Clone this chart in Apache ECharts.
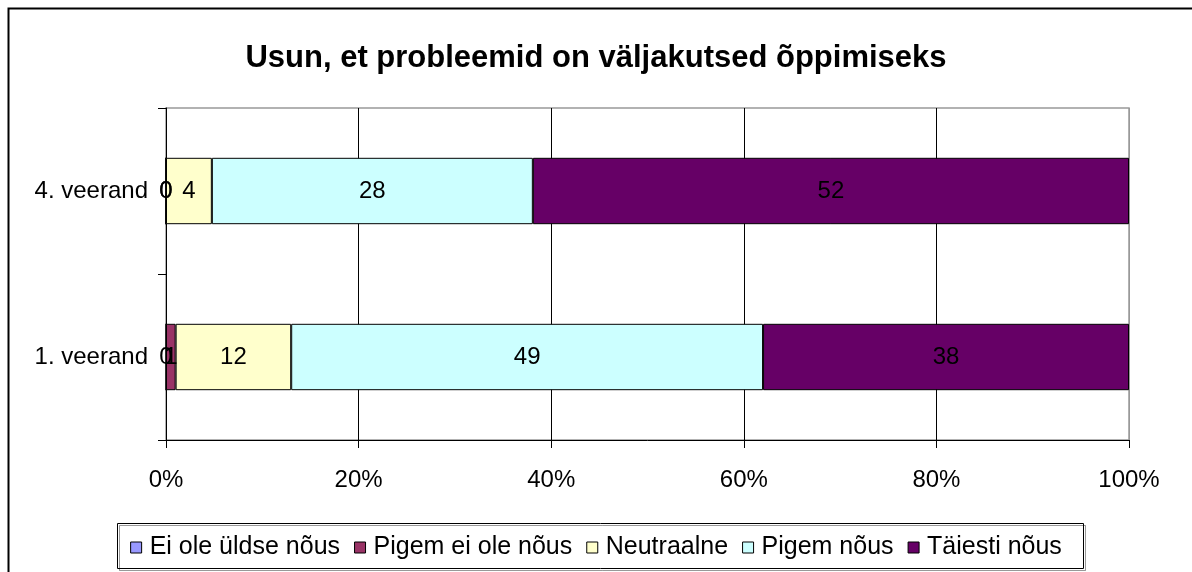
<!DOCTYPE html>
<html lang="et">
<head>
<meta charset="UTF-8">
<title>Usun, et probleemid on väljakutsed õppimiseks</title>
<script src="https://cdn.jsdelivr.net/npm/echarts@6/dist/echarts.min.js"></script>
</head>
<body style="margin:0;background:#fff">
<div id="container" style="width:1192px;height:572px"></div>
<script type="text/javascript">
    // andmed
    var categories = ['1. veerand', '4. veerand'];
    var seriesNames = ['Ei ole üldse nõus', 'Pigem ei ole nõus', 'Neutraalne', 'Pigem nõus', 'Täiesti nõus'];
    var eiOleYldse = [0, 0];
    var pigemEiOle = [1, 0];
    var neutraalne = [12, 4];
    var pigemNous = [49, 28];
    var taiestiNous = [38, 52];
    var xTicks = ['0%', '20%', '40%', '60%', '80%', '100%'];

    var colors = ['#9999FF', '#993366', '#FFFFCC', '#CCFFFF', '#660066'];
    var raw = [eiOleYldse, pigemEiOle, neutraalne, pigemNous, taiestiNous];

    // 100% kuhjamine: arvutame osakaalud ridade summast
    var totals = categories.map(function (c, j) {
        var s = 0;
        raw.forEach(function (arr) { s += arr[j]; });
        return s;
    });

    var series = seriesNames.map(function (name, i) {
        return {
            name: name,
            type: 'bar',
            stack: 'kokku',
            barWidth: '40%',
            data: raw[i].map(function (v, j) {
                return { value: v / totals[j] * 100, raw: v };
            }),
            itemStyle: { color: colors[i], borderColor: '#000', borderWidth: 1 },
            label: {
                show: true,
                position: 'inside',
                color: '#000',
                fontFamily: 'Liberation Sans, Arial',
                fontSize: 24,
                formatter: function (p) { return p.data.raw; }
            },
            emphasis: { disabled: true }
        };
    });

    var myChart = echarts.init(document.getElementById('container'));
    var option = {
        backgroundColor: '#fff',
        animation: false,
        title: {
            text: 'Usun, et probleemid on väljakutsed õppimiseks',
            left: 'center',
            top: 38,
            textStyle: { fontFamily: 'Liberation Sans, Arial', fontSize: 31, fontWeight: 'bold', color: '#000' }
        },
        graphic: [{
            type: 'rect',
            shape: { x: 8.5, y: 8.5, width: 1300, height: 700 },
            style: { fill: 'none', stroke: '#000', lineWidth: 2 },
            silent: true
        }, {
            type: 'rect',
            shape: { x: 117.5, y: 523.5, width: 966, height: 45 },
            style: { fill: 'none', stroke: '#000', lineWidth: 1, shadowColor: 'rgba(0,0,0,0.4)', shadowOffsetX: 2, shadowOffsetY: 2 },
            silent: true,
            z: -1
        }],
        legend: {
            data: seriesNames,
            left: 'center',
            top: 530,
            itemWidth: 11,
            itemHeight: 11,
            itemGap: 14,
            icon: 'rect',
            textStyle: { fontFamily: 'Liberation Sans, Arial', fontSize: 25, color: '#000', padding: [0, 0, 0, 3] },
            itemStyle: { borderColor: '#000', borderWidth: 1 },
            selectedMode: false
        },
        grid: {
            left: 166,
            right: 63,
            top: 108,
            bottom: 132,
            show: true,
            borderColor: '#999',
            borderWidth: 1.5
        },
        xAxis: {
            type: 'value',
            min: 0,
            max: 100,
            interval: 20,
            axisLine: { show: true, lineStyle: { color: '#000' } },
            axisTick: { show: true, length: 8, lineStyle: { color: '#000' } },
            axisLabel: {
                margin: 28,
                color: '#000',
                fontFamily: 'Liberation Sans, Arial',
                fontSize: 24,
                formatter: function (v) { return xTicks[Math.round(v / 20)]; }
            },
            splitLine: { show: true, lineStyle: { color: ['#000', '#000', '#000', '#000', '#000', '#999'], width: 1 } }
        },
        yAxis: {
            type: 'category',
            data: categories,
            axisLine: { show: true, lineStyle: { color: '#000' } },
            axisTick: { show: true, length: 8, lineStyle: { color: '#000' } },
            axisLabel: {
                margin: 18,
                color: '#000',
                fontFamily: 'Liberation Sans, Arial',
                fontSize: 24
            }
        },
        series: series
    };
    myChart.setOption(option);
</script>
</body>
</html>
